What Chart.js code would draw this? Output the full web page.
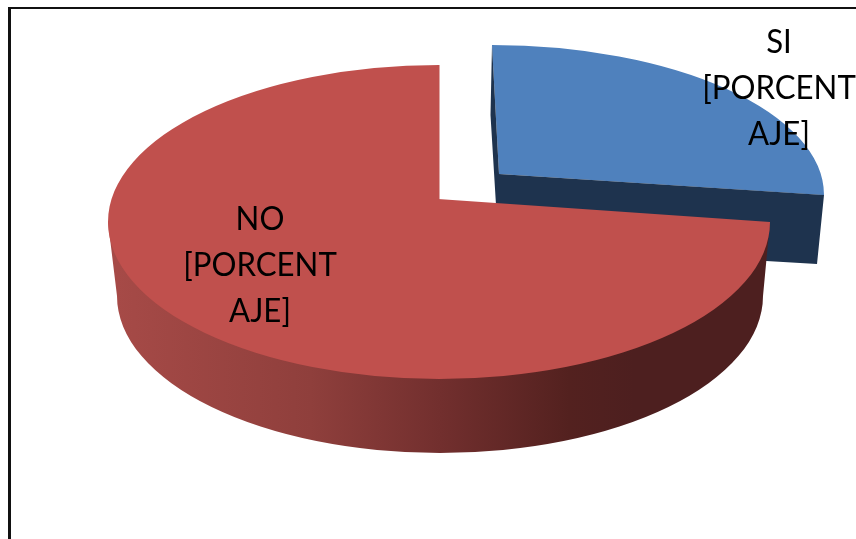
<!DOCTYPE html>
<html><head><meta charset="utf-8">
<style>html,body{margin:0;padding:0;background:#fff;overflow:hidden}canvas{display:block}</style>
<script src="https://cdn.jsdelivr.net/npm/chart.js@4"></script>
</head><body><canvas id="c" width="856" height="539"></canvas>
<script>
const categories = ['SI', 'NO'];
const values = [25, 75];
const valueLabel = ['[PORCENT', 'AJE]'];
const sliceColors = ['#4F81BD', '#C0504D'];

// Projection of each flat slice into the tilted 3D view
const view = [
  {cx: 492, cy: 195, rx: 332, ry: 150},
  {cx: 439, cy: 222, rx: 331, ry: 157}
];
const labelPos = [{x: 779, y: 43}, {x: 260, y: 220}];
const lineGap = 46;

function trace(ctx, pts) {
  ctx.beginPath();
  pts.forEach((p, i) => i ? ctx.lineTo(p[0], p[1]) : ctx.moveTo(p[0], p[1]));
  ctx.closePath();
}
function poly(ctx, pts, fill) {
  trace(ctx, pts);
  ctx.fillStyle = fill;
  ctx.fill();
}
function drawSlice(ctx, el, t, area, clipPts) {
  const R = el.outerRadius;
  ctx.save();
  if (clipPts) { trace(ctx, clipPts); ctx.clip(); }
  ctx.translate(t.cx, t.cy);
  ctx.scale(t.rx / R, t.ry / R);
  ctx.translate(-el.x, -el.y);
  el.draw(ctx, area);
  ctx.restore();
}
const pie3d = {
  id: 'pie3d',
  beforeDraw(chart) {
    const ctx = chart.ctx;
    ctx.save();
    ctx.fillStyle = '#fff';
    ctx.fillRect(0, 0, chart.width, chart.height);
    ctx.fillStyle = '#111';
    ctx.fillRect(8, 7, chart.width - 8, 2);
    ctx.fillRect(8, 7, 3, chart.height - 7);
    ctx.restore();
  },
  beforeDatasetDraw(chart, args) {
    const ctx = chart.ctx, arcs = args.meta.data, area = chart.chartArea;
    // exploded slice, trimmed to its perspective edges, and its cut faces
    drawSlice(ctx, arcs[0], view[0], area, [[492,0],[492,45],[499,174],[830,195.4],[856,0]]);
    poly(ctx, [[492,45],[490.5,115],[496,205],[496,245],[817,264],[824,195],[499,174]], '#1E334E');
    // outer wall of the large slice
    const g = ctx.createLinearGradient(117, 0, 763, 0);
    g.addColorStop(0, '#A64A47');
    g.addColorStop(0.3, '#8F3F3C');
    g.addColorStop(0.5, '#722F2E');
    g.addColorStop(0.7, '#53211F');
    g.addColorStop(0.8, '#4D1F1F');
    g.addColorStop(1, '#4D1F1F');
    ctx.beginPath();
    ctx.moveTo(108, 222);
    ctx.lineTo(117, 296);
    ctx.ellipse(440, 296, 323, 157, 0, Math.PI, 0, true);
    ctx.lineTo(770, 222);
    ctx.closePath();
    ctx.fillStyle = g;
    ctx.fill();
    // large slice top, with its apex lifted by perspective
    drawSlice(ctx, arcs[1], view[1], area);
    poly(ctx, [[438,65],[439.5,65],[439.5,223],[438,223]], sliceColors[1]);
    poly(ctx, [[438,199],[438,223],[770,223],[770,222]], sliceColors[1]);
    return false;
  },
  afterDraw(chart) {
    const ctx = chart.ctx;
    ctx.save();
    ctx.fillStyle = '#000';
    ctx.font = '32px Lato';
    ctx.textAlign = 'center';
    ctx.textBaseline = 'middle';
    categories.forEach((name, i) => {
      [name, ...valueLabel].forEach((line, j) => {
        ctx.save();
        ctx.translate(labelPos[i].x, labelPos[i].y + j * lineGap);
        ctx.scale(0.975, 1);
        ctx.fillText(line, 0, 0);
        ctx.restore();
      });
    });
    ctx.restore();
  }
};
new Chart(document.getElementById('c'), {
  type: 'pie',
  data: {labels: categories, datasets: [{data: values, backgroundColor: sliceColors, borderWidth: 0, clip: false}]},
  options: {
    responsive: false,
    animation: false,
    rotation: 0,
    layout: {padding: 0},
    plugins: {legend: {display: false}, tooltip: {enabled: false}}
  },
  plugins: [pie3d]
});
</script></body></html>
